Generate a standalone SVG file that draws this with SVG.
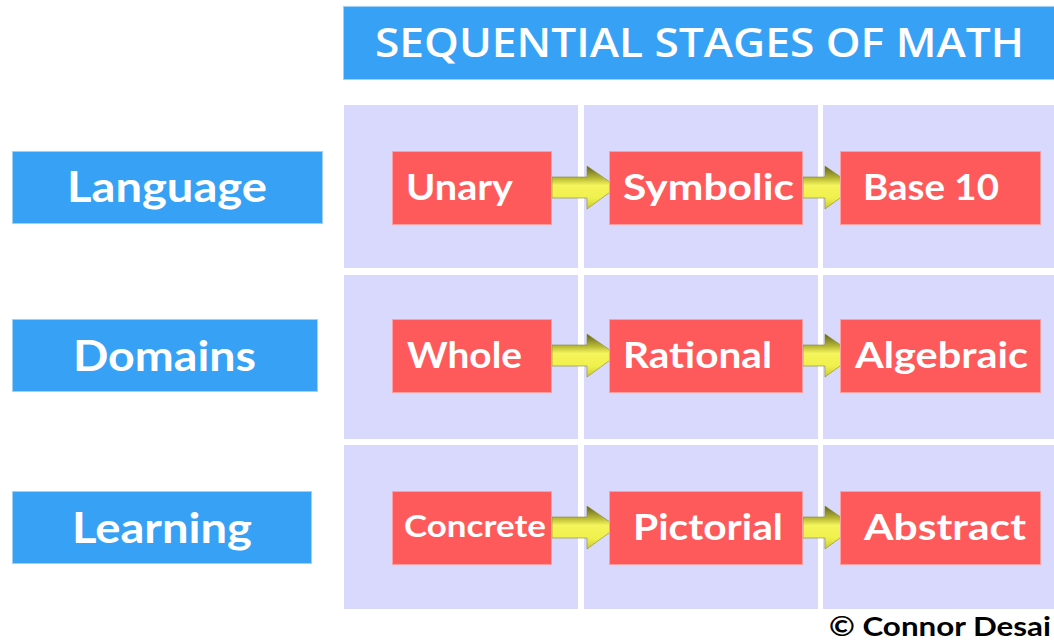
<svg xmlns="http://www.w3.org/2000/svg" width="1054" height="641" viewBox="0 0 1054 641">
<defs>
<style>
.blue{fill:#37a2f5;stroke:#9fd0f8;stroke-width:1}
.cell{fill:#d8d9fd}
.red{fill:#ff5a5b;stroke:#ff9fa0;stroke-width:1}
.lbl{font-family:"Lato","Liberation Sans",sans-serif;font-weight:700;fill:#ffffff;font-size:42px}
.node{font-family:"Lato","Liberation Sans",sans-serif;font-weight:700;fill:#ffffff;font-size:36px}
.title{font-family:"Open Sans","Liberation Sans",sans-serif;font-weight:600;fill:#ffffff;font-size:40px}
.arrow{fill:url(#ag);stroke:#8c8c2a;stroke-width:0.6}
</style>
<linearGradient id="ag" x1="0" y1="0" x2="0" y2="1">
<stop offset="0" stop-color="#5f5f22"/>
<stop offset="0.28" stop-color="#b8b834"/>
<stop offset="0.45" stop-color="#f4f45c"/>
<stop offset="0.75" stop-color="#f0f04c"/>
<stop offset="1" stop-color="#caca36"/>
</linearGradient>
</defs>
<rect width="1054" height="641" fill="#ffffff"/>
<g id="title">
<rect class="blue" x="343.5" y="6.5" width="712" height="73"/>
<text class="title" x="375" y="57" textLength="649" lengthAdjust="spacingAndGlyphs">SEQUENTIAL STAGES OF MATH</text>
</g>
<g id="grid">
<rect class="cell" x="344" y="105" width="234" height="163"/>
<rect class="cell" x="584" y="105" width="234" height="163"/>
<rect class="cell" x="823" y="105" width="231" height="163"/>
<rect class="cell" x="344" y="275" width="234" height="164"/>
<rect class="cell" x="584" y="275" width="234" height="164"/>
<rect class="cell" x="823" y="275" width="231" height="164"/>
<rect class="cell" x="344" y="445" width="234" height="164"/>
<rect class="cell" x="584" y="445" width="234" height="164"/>
<rect class="cell" x="823" y="445" width="231" height="164"/>
</g>
<g id="label-language">
<rect class="blue" x="12.5" y="151.5" width="310" height="72"/>
<text class="lbl" x="167" y="202" text-anchor="middle" textLength="200" lengthAdjust="spacingAndGlyphs">Language</text>
</g>
<g id="label-domains">
<rect class="blue" x="12.5" y="319.5" width="305" height="72"/>
<text class="lbl" x="164.5" y="371" text-anchor="middle" textLength="183" lengthAdjust="spacingAndGlyphs">Domains</text>
</g>
<g id="label-learning">
<rect class="blue" x="12.5" y="491.5" width="299" height="72"/>
<text class="lbl" x="162" y="543" text-anchor="middle" textLength="180" lengthAdjust="spacingAndGlyphs">Learning</text>
</g>
<g id="connectors">
<path class="arrow" d="M552,177 L587,177 L587,166 L617,187 L587,209 L587,198 L552,198 Z"/>
<path class="arrow" d="M803,177 L825,177 L825,166 L855,187 L825,209 L825,198 L803,198 Z"/>
<path class="arrow" d="M552,345 L587,345 L587,334 L617,355 L587,377 L587,366 L552,366 Z"/>
<path class="arrow" d="M803,345 L825,345 L825,334 L855,355 L825,377 L825,366 L803,366 Z"/>
<path class="arrow" d="M552,517 L587,517 L587,506 L617,527 L587,549 L587,538 L552,538 Z"/>
<path class="arrow" d="M803,517 L825,517 L825,506 L855,527 L825,549 L825,538 L803,538 Z"/>
</g>
<g id="node-unary">
<rect class="red" x="392.5" y="151.5" width="159" height="73"/>
<text class="node" x="406" y="200" textLength="107" lengthAdjust="spacingAndGlyphs">Unary</text>
</g>
<g id="node-symbolic">
<rect class="red" x="609.5" y="151.5" width="193" height="73"/>
<text class="node" x="623" y="200" textLength="171" lengthAdjust="spacingAndGlyphs">Symbolic</text>
</g>
<g id="node-base10">
<rect class="red" x="840.5" y="151.5" width="200" height="73"/>
<text class="node" x="863" y="200" textLength="136" lengthAdjust="spacingAndGlyphs">Base 10</text>
</g>
<g id="node-whole">
<rect class="red" x="392.5" y="319.5" width="159" height="73"/>
<text class="node" x="407" y="368" textLength="115" lengthAdjust="spacingAndGlyphs">Whole</text>
</g>
<g id="node-rational">
<rect class="red" x="609.5" y="319.5" width="193" height="73"/>
<text class="node" x="623" y="368" textLength="149" lengthAdjust="spacingAndGlyphs">Rational</text>
</g>
<g id="node-algebraic">
<rect class="red" x="840.5" y="319.5" width="200" height="73"/>
<text class="node" x="855" y="368" textLength="173" lengthAdjust="spacingAndGlyphs">Algebraic</text>
</g>
<g id="node-concrete">
<rect class="red" x="392.5" y="491.5" width="159" height="73"/>
<text class="node" x="404" y="537" style="font-size:30px" textLength="142" lengthAdjust="spacingAndGlyphs">Concrete</text>
</g>
<g id="node-pictorial">
<rect class="red" x="609.5" y="491.5" width="193" height="73"/>
<text class="node" x="633" y="540" textLength="150" lengthAdjust="spacingAndGlyphs">Pictorial</text>
</g>
<g id="node-abstract">
<rect class="red" x="840.5" y="491.5" width="200" height="73"/>
<text class="node" x="864" y="540" textLength="162" lengthAdjust="spacingAndGlyphs">Abstract</text>
</g>
<g id="credit">
<text x="829" y="636" style="font-family:'Lato','Liberation Sans',sans-serif;font-weight:700;font-size:26px;fill:#000000" textLength="222" lengthAdjust="spacingAndGlyphs">© Connor Desai</text>
</g>
</svg>
